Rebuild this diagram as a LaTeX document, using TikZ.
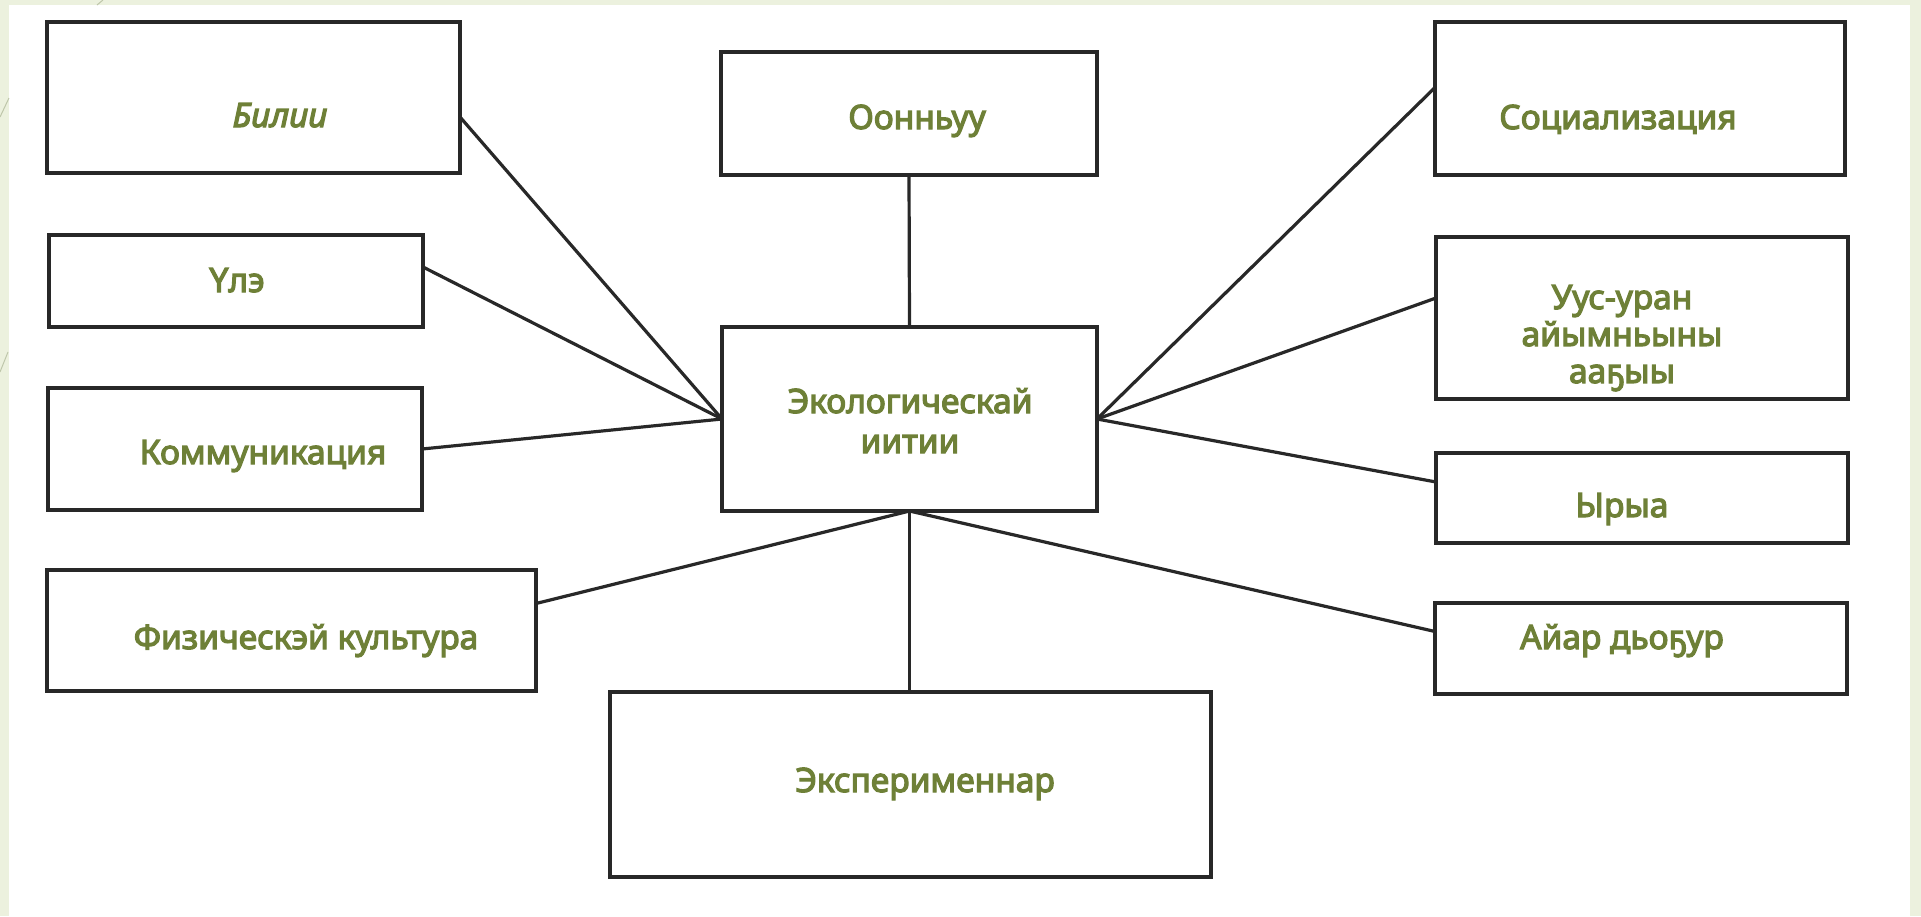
\documentclass[tikz,border=0pt]{standalone}
\usepackage{fontspec}
\setmainfont{Noto Sans}
\newfontfamily\boldface{Noto Sans}[FakeBold=3.6]
\usetikzlibrary{calc}
\definecolor{olivetxt}{RGB}{110,128,55}
\definecolor{slidegreen}{RGB}{236,241,222}
\definecolor{decoline}{RGB}{190,198,170}
\definecolor{boxline}{RGB}{40,40,40}
\tikzset{
  box/.style={draw=boxline, line width=3.6pt, fill=white, rectangle, inner sep=0pt, outer sep=0pt},
  txt/.style={text=olivetxt, font=\boldface\fontsize{33.5}{40}\selectfont, anchor=base, inner sep=0pt},
  link/.style={draw=boxline, line width=3.2pt}
}
\begin{document}
\begin{tikzpicture}[x=1pt,y=-1pt]
\useasboundingbox (0,0) rectangle (1921,916);
\fill[slidegreen] (0,0) rectangle (1921,916);
\fill[white] (9,5) rectangle (1910,916);
\draw[decoline, line width=1pt] (0,117) -- (9,98);
\draw[decoline, line width=1pt] (0,372) -- (8,352);
\draw[decoline, line width=1pt] (97,5) -- (103,0);

% boxes
\node[box, minimum width=413pt, minimum height=151pt] (bil) at (253.5,97.5) {};
\node[box, minimum width=374pt, minimum height=92pt]  (ule) at (236,281) {};
\node[box, minimum width=374pt, minimum height=122pt] (kom) at (235,449) {};
\node[box, minimum width=489pt, minimum height=121pt] (fiz) at (291.5,630.5) {};
\node[box, minimum width=376pt, minimum height=123pt] (oon) at (909,113.5) {};
\node[box, minimum width=375pt, minimum height=184pt] (eco) at (909.5,419) {};
\node[box, minimum width=601pt, minimum height=185pt] (exp) at (910.5,784.5) {};
\node[box, minimum width=410pt, minimum height=153pt] (soc) at (1640,98.5) {};
\node[box, minimum width=412pt, minimum height=162pt] (uus) at (1642,318) {};
\node[box, minimum width=412pt, minimum height=90pt]  (yry) at (1642,498) {};
\node[box, minimum width=412pt, minimum height=91pt]  (aia) at (1641,648.5) {};

% connectors
\draw[link] ($(bil.east)+(0,19.5)$) -- (eco.west);
\draw[link] ($(ule.east)+(0,-14)$) -- (eco.west);
\draw[link] (kom.east) -- (eco.west);
\draw[link] ($(fiz.east)+(0,-27)$) -- (eco.south);
\draw[link] (oon.south) -- (eco.north);
\draw[link] (eco.south) -- (eco.south |- exp.north);
\draw[link] ($(soc.west)+(0,-11)$) -- (eco.east);
\draw[link] ($(uus.west)+(0,-20)$) -- (eco.east);
\draw[link] ($(yry.west)+(0,-16)$) -- (eco.east);
\draw[link] ($(aia.west)+(0,-17)$) -- (eco.south);

% texts
\node[txt, font=\boldface\itshape\fontsize{33.5}{40}\selectfont] (bilT) at (280,127) {Билии};
\node[txt] (uleT) at (237,292) {Үлэ};
\node[txt] (komT) at (263,464) {Коммуникация};
\node[txt] (fizT) at (306,649) {Физическэй культура};
\node[txt] (oonT) at (917,129) {Оонньуу};
\node[txt] (ecoT1) at (910,413) {Экологическай};
\node[txt] (ecoT2) at (910,453) {иитии};
\node[txt] (expT) at (925,792) {Эксперименнар};
\node[txt] (socT) at (1618,129) {Социализация};
\node[txt] (uusT1) at (1622,309) {Уус-уран};
\node[txt] (uusT2) at (1622,346) {айымньыны};
\node[txt] (uusT3) at (1622,383) {ааҕыы};
\node[txt] (yryT) at (1622,517) {Ырыа};
\node[txt] (aiaT) at (1622,649) {Айар дьоҕур};
\end{tikzpicture}
\end{document}
